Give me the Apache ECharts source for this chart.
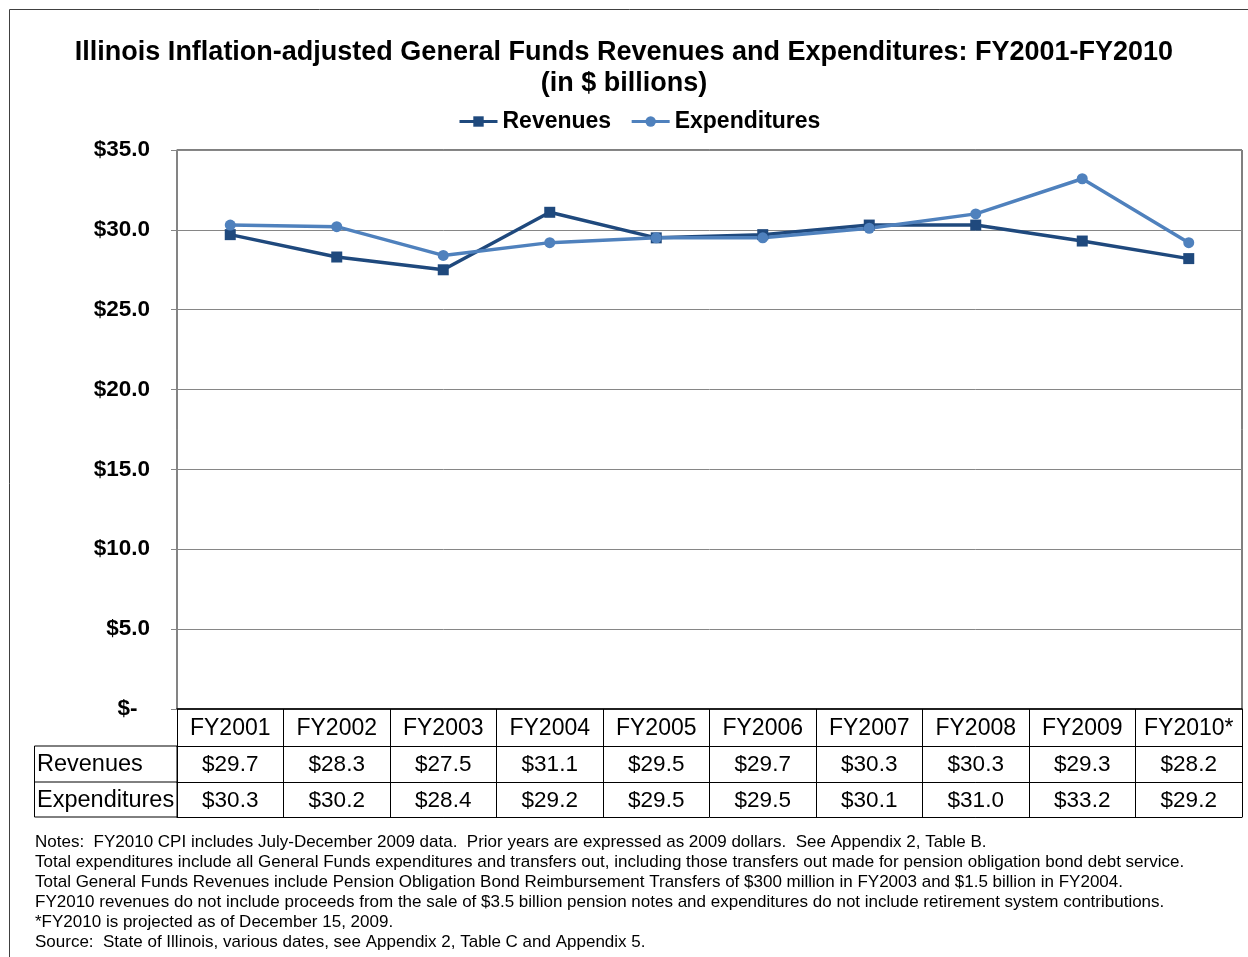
<!DOCTYPE html>
<html>
<head>
<meta charset="utf-8">
<script src="https://cdn.jsdelivr.net/npm/echarts@6/dist/echarts.min.js"></script>
<style>
html,body{margin:0;padding:0;background:#fff;}
#chart{width:1248px;height:957px;}
</style>
</head>
<body>
<div id="chart"></div>
<script>
const categories = ['FY2001','FY2002','FY2003','FY2004','FY2005','FY2006','FY2007','FY2008','FY2009','FY2010*'];
const revenues = [29.7, 28.3, 27.5, 31.1, 29.5, 29.7, 30.3, 30.3, 29.3, 28.2];
const expenditures = [30.3, 30.2, 28.4, 29.2, 29.5, 29.5, 30.1, 31.0, 33.2, 29.2];
const seriesNames = ['Revenues', 'Expenditures'];
const titleText = 'Illinois Inflation-adjusted General Funds Revenues and Expenditures: FY2001-FY2010\n(in $ billions)';
const notes = [
  'Notes:  FY2010 CPI includes July-December 2009 data.  Prior years are expressed as 2009 dollars.  See Appendix 2, Table B.',
  'Total expenditures include all General Funds expenditures and transfers out, including those transfers out made for pension obligation bond debt service.',
  'Total General Funds Revenues include Pension Obligation Bond Reimbursement Transfers of $300 million in FY2003 and $1.5 billion in FY2004.',
  'FY2010 revenues do not include proceeds from the sale of $3.5 billion pension notes and expenditures do not include retirement system contributions.',
  '*FY2010 is projected as of December 15, 2009.',
  'Source:  State of Illinois, various dates, see Appendix 2, Table C and Appendix 5.'
];

const FONT = 'Liberation Sans, Arial, sans-serif';
const fmt = v => '$' + v.toFixed(1);

const chart = echarts.init(document.getElementById('chart'));

const gridL = 177, gridT = 150, gridW = 1065, gridH = 559;

const tableAxis = (data, offset, showLabel) => ({
  type: 'category',
  gridIndex: 0,
  position: 'bottom',
  offset: offset,
  data: data,
  boundaryGap: true,
  axisLine: { show: true, lineStyle: { color: '#000', width: 1 } },
  axisTick: { show: false },
  axisLabel: { show: showLabel, interval: 0, margin: 7, fontFamily: FONT, fontSize: 22.5, color: '#000' },
  splitLine: { show: false }
});

chart.setOption({
  animation: false,
  backgroundColor: '#fff',
  title: {
    text: titleText,
    left: 'center',
    top: 32,
    textStyle: { fontFamily: FONT, fontSize: 27, fontWeight: 'bold', color: '#000', lineHeight: 31 }
  },
  legend: {
    top: 105,
    left: 453,
    itemWidth: 38,
    itemHeight: 13,
    itemGap: 19,
    lineStyle: { width: 3 },
    textStyle: { fontFamily: FONT, fontSize: 23, fontWeight: 'bold', color: '#000' },
    data: seriesNames
  },
  grid: {
    left: gridL, top: gridT, width: gridW, height: gridH,
    show: true, borderColor: '#000', borderWidth: 1, containLabel: false
  },
  xAxis: [
    {
      type: 'category',
      data: categories,
      boundaryGap: true,
      axisLine: { show: true, lineStyle: { color: '#000', width: 1.5 } },
      axisTick: { show: true, interval: 0, length: 108, lineStyle: { color: '#000', width: 1 } },
      axisLabel: { interval: 0, margin: 8, fontFamily: FONT, fontSize: 23, color: '#000' },
      splitLine: { show: false }
    },
    tableAxis(revenues.map(fmt), 37, true),
    tableAxis(expenditures.map(fmt), 73, true),
    tableAxis(categories.map(() => ''), 108, false)
  ],
  yAxis: {
    type: 'value',
    min: 0, max: 35, interval: 5,
    axisLine: { show: true, lineStyle: { color: '#868686', width: 1.5 } },
    axisTick: { show: true, length: 6, lineStyle: { color: '#868686' } },
    axisLabel: {
      margin: 27,
      fontFamily: FONT, fontSize: 22.5, fontWeight: 'bold', color: '#000',
      formatter: v => v === 0 ? '$-  ' : fmt(v)
    },
    splitLine: { show: true, lineStyle: { color: '#868686', width: 1 } }
  },
  series: [
    {
      name: seriesNames[0],
      type: 'line',
      data: revenues,
      symbol: 'rect',
      symbolSize: 11,
      lineStyle: { color: '#1F497D', width: 3.5 },
      itemStyle: { color: '#1F497D' }
    },
    {
      name: seriesNames[1],
      type: 'line',
      data: expenditures,
      symbol: 'circle',
      symbolSize: 11,
      lineStyle: { color: '#4F81BD', width: 3.5 },
      itemStyle: { color: '#4F81BD' }
    }
  ],
  graphic: [
    { type: 'rect', shape: { x: 9.5, y: 9.5, width: 1260, height: 980 }, style: { fill: null, stroke: '#404040', lineWidth: 1 }, z: -1 },
    { type: 'rect', shape: { x: 34.5, y: gridT + gridH + 37, width: gridL - 34.5, height: 71 }, style: { fill: null, stroke: '#000', lineWidth: 1 } },
    { type: 'line', shape: { x1: 34.5, y1: gridT + gridH + 73, x2: gridL, y2: gridT + gridH + 73 }, style: { stroke: '#000', lineWidth: 1 } },
    { type: 'text', x: 37, y: gridT + gridH + 56, style: { text: seriesNames[0], fontFamily: FONT, fontSize: 23.5, fill: '#000', verticalAlign: 'middle' } },
    { type: 'text', x: 37, y: gridT + gridH + 92, style: { text: seriesNames[1], fontFamily: FONT, fontSize: 23.5, fill: '#000', verticalAlign: 'middle' } },
    { type: 'text', x: 35, y: 832, style: { text: notes.join('\n'), fontFamily: FONT, fontSize: 17, lineHeight: 20, fill: '#000', verticalAlign: 'top' } }
  ]
});
</script>
</body>
</html>
